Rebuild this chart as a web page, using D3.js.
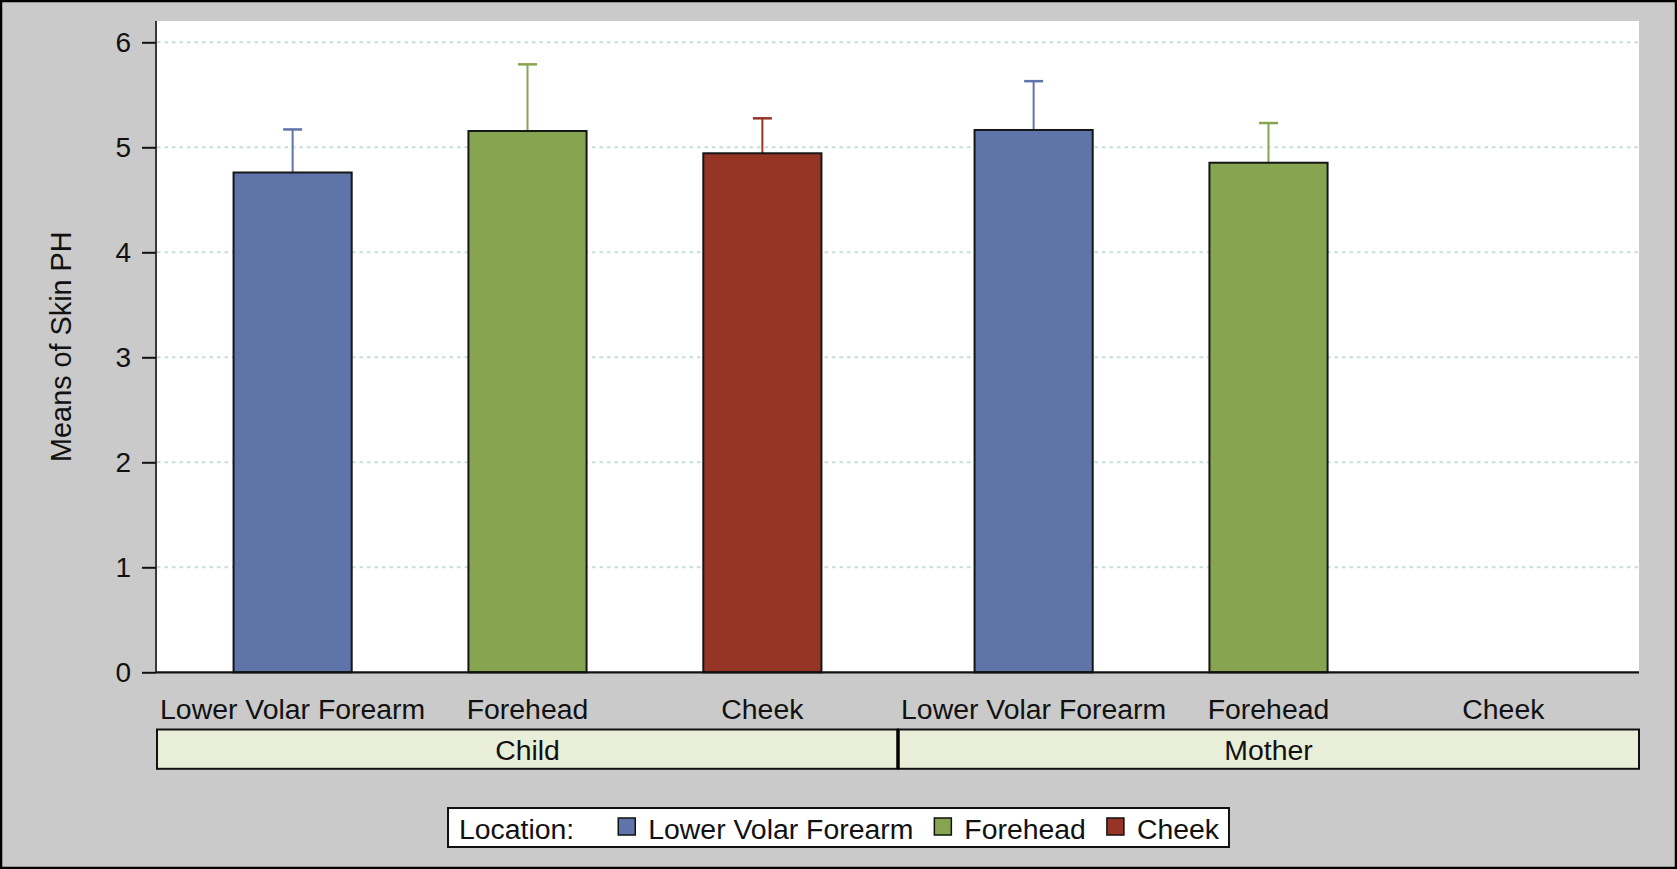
<!DOCTYPE html>
<html>
<head>
<meta charset="utf-8">
<script src="https://cdn.jsdelivr.net/npm/d3@7"></script>
<style>
  html, body { margin: 0; padding: 0; background: #c9cac9; }
  svg { display: block; font-family: "Liberation Sans", Arial, sans-serif; }
</style>
</head>
<body>
<svg id="chart" width="1677" height="869"></svg>
<script>
// ---- data ----
const groups = ["Child", "Mother"];
const locations = ["Lower Volar Forearm", "Forehead", "Cheek"];
const childMeans = [4.76, 5.155, 4.943];
const childUpper = [5.17, 5.79, 5.276];
const motherMeans = [5.165, 4.853, null];
const motherUpper = [5.63, 5.231, null];
const yTicks = [0, 1, 2, 3, 4, 5, 6];
const yTitle = "Means of Skin PH";
const legendTitle = "Location:";
const colors = ["#5f74a9", "#87a550", "#963526"];

const rows = [];
groups.forEach((g, gi) => {
  const means = gi === 0 ? childMeans : motherMeans;
  const upper = gi === 0 ? childUpper : motherUpper;
  locations.forEach((loc, li) => {
    rows.push({ group: g, loc, li, mean: means[li], upper: upper[li] });
  });
});

// ---- layout ----
const W = 1677, H = 869;
const plot = { left: 157, right: 1639, top: 21, bottom: 672.3 };
const svg = d3.select("#chart");

svg.append("rect").attr("x", 0).attr("y", 0).attr("width", W).attr("height", H)
  .attr("fill", "#c9cac9");

const x0 = d3.scaleBand().domain(groups).range([plot.left, plot.right]).padding(0);
const x1 = d3.scaleBand().domain(locations).range([0, x0.bandwidth()])
  .paddingInner(0.497).paddingOuter(0.326);
const y = d3.scaleLinear().domain([0, 6]).range([plot.bottom, plot.bottom - 6 * 105]);

// plot background
svg.append("rect").attr("x", plot.left).attr("y", plot.top)
  .attr("width", plot.right - plot.left).attr("height", plot.bottom - plot.top)
  .attr("fill", "#ffffff");

// gridlines
svg.append("g").selectAll("line").data(yTicks.filter(t => t > 0)).join("line")
  .attr("x1", plot.left).attr("x2", plot.right)
  .attr("y1", d => y(d)).attr("y2", d => y(d))
  .attr("stroke", "#c6e0d5").attr("stroke-width", 2)
  .attr("stroke-dasharray", "3.5,4");

// bars
const bars = svg.append("g");
rows.filter(r => r.mean != null).forEach(r => {
  const cx = x0(r.group) + x1(r.loc);
  const bw = x1.bandwidth();
  const col = colors[r.li];
  const mid = cx + bw / 2;
  bars.append("line").attr("x1", mid).attr("x2", mid)
    .attr("y1", y(r.mean)).attr("y2", y(r.upper))
    .attr("stroke", col).attr("stroke-width", 2);
  bars.append("line").attr("x1", mid - 9.5).attr("x2", mid + 9.5)
    .attr("y1", y(r.upper)).attr("y2", y(r.upper))
    .attr("stroke", col).attr("stroke-width", 2.5);
  bars.append("rect").attr("x", cx).attr("y", y(r.mean))
    .attr("width", bw).attr("height", y(0) - y(r.mean))
    .attr("fill", col).attr("stroke", "#161616").attr("stroke-width", 2);
});

// y axis
const yAxis = d3.axisLeft(y).tickValues(yTicks).tickSize(14).tickPadding(11)
  .tickFormat(d3.format("d"));
const ya = svg.append("g").attr("transform", `translate(${plot.left - 1},0)`).call(yAxis);
ya.select(".domain").attr("stroke", "#3a3a3a").attr("stroke-width", 2)
  .attr("d", `M0,${plot.top}V${plot.bottom}`);
ya.selectAll(".tick line").attr("stroke", "#111").attr("stroke-width", 2);
ya.selectAll(".tick text").attr("font-size", 28).attr("fill", "#111")
  .attr("font-family", "'Liberation Sans', Arial, sans-serif");

// x axis baseline
svg.append("line").attr("x1", plot.left - 1).attr("x2", plot.right)
  .attr("y1", plot.bottom).attr("y2", plot.bottom)
  .attr("stroke", "#111").attr("stroke-width", 2.2);

// category labels
svg.append("g").selectAll("text").data(rows).join("text")
  .attr("x", d => x0(d.group) + x1(d.loc) + x1.bandwidth() / 2)
  .attr("y", 718.5)
  .attr("text-anchor", "middle").attr("font-size", 28.4).attr("fill", "#111")
  .text(d => d.loc);

// group strips
const strips = svg.append("g");
strips.selectAll("rect").data(groups).join("rect")
  .attr("x", d => x0(d)).attr("y", 729.5)
  .attr("width", x0.bandwidth()).attr("height", 39.3)
  .attr("fill", "#e9eed8").attr("stroke", "#111").attr("stroke-width", 2);
strips.append("line").attr("x1", x0("Mother")).attr("x2", x0("Mother"))
  .attr("y1", 729.5).attr("y2", 768.8).attr("stroke", "#000").attr("stroke-width", 3.5);
strips.selectAll("text").data(groups).join("text")
  .attr("x", d => x0(d) + x0.bandwidth() / 2).attr("y", 760)
  .attr("text-anchor", "middle").attr("font-size", 28.4).attr("fill", "#111")
  .text(d => d);

// y title
svg.append("text")
  .attr("transform", `translate(70.5,${(plot.top + plot.bottom) / 2}) rotate(-90)`)
  .attr("text-anchor", "middle").attr("font-size", 28.8).attr("fill", "#111")
  .text(yTitle);

// legend
const leg = svg.append("g");
const legBox = leg.append("rect").attr("y", 808).attr("height", 39)
  .attr("fill", "#fff").attr("stroke", "#111").attr("stroke-width", 2);
const fs = 28.4;
const itemGap = 21;
let cursor = 0;
const t0 = leg.append("text").attr("y", 838.5).attr("font-size", fs).attr("fill", "#111").text(legendTitle);
t0.attr("x", 0);
cursor = t0.node().getComputedTextLength() + 44;
locations.forEach((loc, i) => {
  leg.append("rect").attr("x", cursor).attr("y", 818).attr("width", 17).attr("height", 17)
    .attr("fill", colors[i]).attr("stroke", "#111").attr("stroke-width", 1.5);
  cursor += 17 + 13;
  const tt = leg.append("text").attr("x", cursor).attr("y", 838.5).attr("font-size", fs)
    .attr("fill", "#111").text(loc);
  cursor += tt.node().getComputedTextLength() + itemGap;
});
const contentW = cursor - itemGap;
const padL = 11, padR = 10;
const boxW = contentW + padL + padR;
const boxX = W / 2 - boxW / 2;
legBox.attr("x", boxX).attr("width", boxW);
leg.selectAll("text, rect:not(:first-child)").attr("transform", `translate(${boxX + padL},0)`);

// outer border
svg.append("rect").attr("x", 1).attr("y", 1).attr("width", W - 2).attr("height", H - 2)
  .attr("fill", "none").attr("stroke", "#000").attr("stroke-width", 2.5);
</script>
</body>
</html>
